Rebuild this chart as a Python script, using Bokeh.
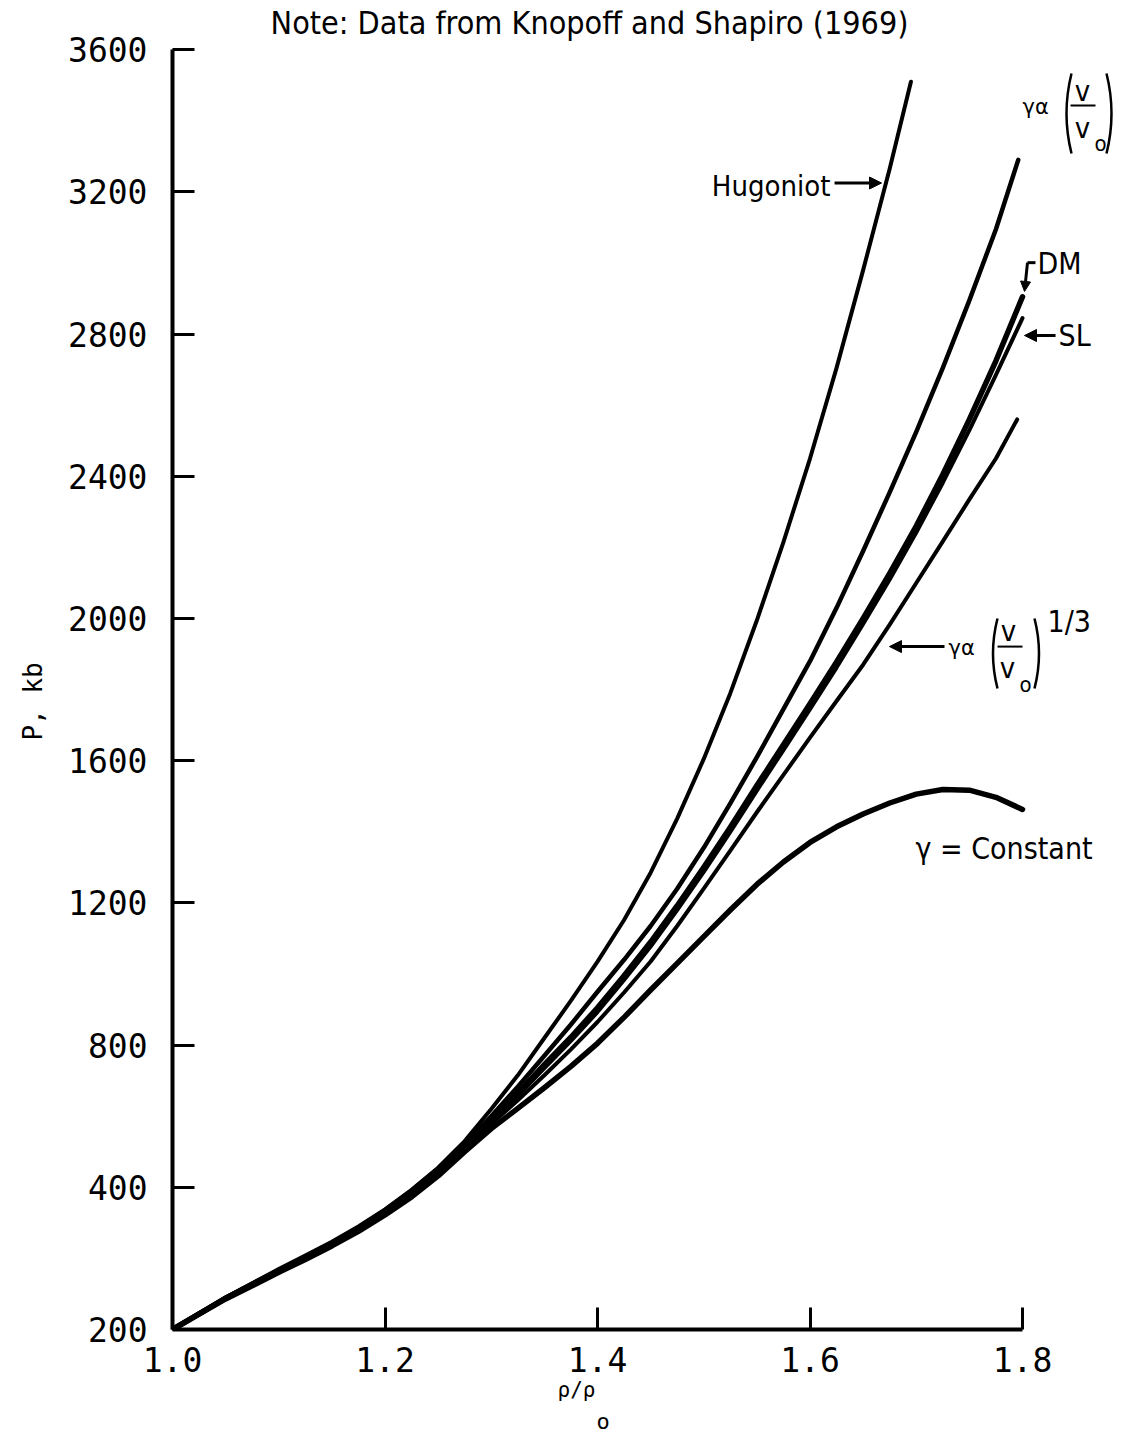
from bokeh.plotting import figure
from bokeh.models import FixedTicker, Label, Arrow, NormalHead, Range1d, Title
from bokeh.embed import file_html
from bokeh.resources import INLINE

# ---------------- data ----------------
rho = [1.000, 1.025, 1.050, 1.075, 1.100, 1.125, 1.150, 1.175, 1.200, 1.225, 1.250, 1.275,
       1.300, 1.325, 1.350, 1.375, 1.400, 1.425, 1.450, 1.475, 1.500, 1.525, 1.550, 1.575,
       1.600, 1.625, 1.650, 1.675, 1.700, 1.725, 1.750, 1.775, 1.800]

# Hugoniot (ends at rho/rho0 = 1.695)
rho_hug = rho[:27] + [1.675, 1.695]
p_hug = [0, 45, 90, 130, 170, 208, 247, 290, 338, 393, 455, 530,
         620, 715, 820, 925, 1035, 1152, 1285, 1437, 1605, 1790, 1995, 2215,
         2450, 2705, 2980, 3265, 3510]

# gamma ~ (V/V0)
rho_v = rho[:32] + [1.796]
p_v = [0, 45, 89, 128, 167, 205, 244, 287, 335, 390, 452, 522,
       600, 683, 770, 858, 950, 1040, 1135, 1240, 1355, 1480, 1610, 1745,
       1880, 2030, 2190, 2355, 2525, 2705, 2895, 3095, 3290]

# DM
rho_dm = rho
p_dm = [0, 44, 88, 127, 165, 203, 241, 284, 331, 386, 447, 516,
        590, 665, 745, 822, 905, 995, 1090, 1192, 1300, 1413, 1530, 1645,
        1760, 1878, 2000, 2127, 2260, 2405, 2560, 2725, 2905]

# SL
rho_sl = rho
p_sl = [0, 44, 88, 126, 164, 202, 240, 282, 329, 383, 444, 512,
        585, 657, 735, 812, 893, 983, 1077, 1180, 1287, 1400, 1516, 1630,
        1745, 1862, 1985, 2110, 2242, 2382, 2530, 2685, 2845]

# gamma ~ (V/V0)^(1/3)
rho_v13 = rho[:32] + [1.795]
p_v13 = [0, 44, 87, 125, 163, 200, 238, 280, 327, 380, 440, 507,
         578, 645, 715, 788, 865, 948, 1035, 1135, 1240, 1347, 1455, 1560,
         1665, 1768, 1870, 1983, 2100, 2217, 2335, 2450, 2560]

# gamma = constant
rho_const = rho
p_const = [0, 43, 86, 123, 161, 197, 235, 276, 322, 373, 432, 500,
           565, 622, 680, 740, 805, 878, 955, 1030, 1105, 1180, 1252, 1315,
           1370, 1414, 1450, 1481, 1506, 1519, 1517, 1497, 1463]

x_ticks = [1.0, 1.2, 1.4, 1.6, 1.8]
x_tick_labels = ["1.0", "1.2", "1.4", "1.6", "1.8"]
y_ticks = [0, 400, 800, 1200, 1600, 2000, 2400, 2800, 3200, 3600]
y_tick_labels = ["200", "400", "800", "1200", "1600", "2000", "2400", "2800", "3200", "3600"]

# ---------------- figure ----------------
NARROW = "Liberation Sans Narrow, DejaVu Sans Condensed, sans-serif"
MONO = "DejaVu Sans Mono"

p = figure(width=1124, height=1440, output_backend="svg", toolbar_location=None,
           x_range=Range1d(1.0, 1.896), y_range=Range1d(0, 3710.3),
           min_border_left=172, min_border_right=0, min_border_top=10, min_border_bottom=111)
p.outline_line_color = None
p.grid.visible = False
p.background_fill_color = "white"
p.border_fill_color = "white"

for ax in (p.xaxis[0], p.yaxis[0]):
    ax.axis_line_width = 4
    ax.axis_line_color = "black"
    ax.major_tick_in = 22
    ax.major_tick_out = 0
    ax.major_tick_line_width = 3
    ax.major_tick_line_color = "black"
    ax.minor_tick_line_color = None
    ax.major_label_text_font = MONO
    ax.major_label_text_font_size = "33px"
    ax.major_label_text_color = "black"

p.xaxis.bounds = (1.0, 1.8)
p.yaxis.bounds = (0, 3600)
p.xaxis.ticker = FixedTicker(ticks=x_ticks)
p.yaxis.ticker = FixedTicker(ticks=y_ticks)
p.xaxis.major_label_overrides = {t: s for t, s in zip(x_ticks, x_tick_labels)}
p.yaxis.major_label_overrides = {t: s for t, s in zip(y_ticks, y_tick_labels)}
p.xaxis.major_label_standoff = 17
p.yaxis.major_label_standoff = 25

# axis titles (placed in the side panels)
p.add_layout(Title(text="P, kb", align="left", offset=589, vertical_align="top",
                   text_font=MONO, text_font_size="26px", text_font_style="normal",
                   text_color="black", standoff=32), "left")
p.add_layout(Title(text="ρ/ρ", align="left", offset=385, vertical_align="top",
                   text_font=MONO, text_font_size="21px", text_font_style="normal",
                   text_color="black", standoff=6), "below")
p.add_layout(Title(text="o", align="left", offset=424, text_font=MONO,
                   text_font_size="22px", text_font_style="normal",
                   text_color="black", standoff=0), "below")

# ---------------- curves ----------------
p.line(rho_hug, p_hug, line_color="black", line_width=4, line_cap="round", line_join="round")
p.line(rho_v, p_v, line_color="black", line_width=4.5, line_cap="round", line_join="round")
p.line(rho_dm, p_dm, line_color="black", line_width=5.5, line_cap="round", line_join="round")
p.line(rho_sl, p_sl, line_color="black", line_width=4, line_cap="round", line_join="round")
p.line(rho_v13, p_v13, line_color="black", line_width=4, line_cap="round", line_join="round")
p.line(rho_const, p_const, line_color="black", line_width=5.5, line_cap="round", line_join="round")

# ---------------- texts ----------------
def lab(x, y, text, size, font=NARROW, align="left", baseline="middle", angle=0):
    p.add_layout(Label(x=x, y=y, text=text, text_font=font, text_font_size=size,
                       text_align=align, text_baseline=baseline, angle=angle,
                       text_color="black"))

def arrow(x0, y0, x1, y1, head=True, width=3, size=12):
    p.add_layout(Arrow(x_start=x0, y_start=y0, x_end=x1, y_end=y1, line_width=width,
                       line_color="black",
                       end=NormalHead(size=size, fill_color="black", line_color="black") if head else None))

lab(1.3925, 3676, "Note: Data from Knopoff and Shapiro (1969)", "32px", align="center")

# Hugoniot
lab(1.6193, 3218, "Hugoniot", "29px", align="right")
arrow(1.6231, 3225, 1.6673, 3225)

# gamma ~ (V/V0)
lab(1.8000, 3440, "γα", "21px", font="DejaVu Sans")
lab(1.8565, 3485, "v", "29px", align="center")
lab(1.8565, 3381, "v", "29px", align="center")
lab(1.8735, 3336, "o", "22px", align="center")
arrow(1.8452, 3443, 1.8687, 3443, head=False, width=2)
p.quadratic(x0=[1.84612], y0=[3533.0], x1=[1.84612], y1=[3308.0], cx=[1.83671], cy=[3420.5],
            line_color="black", line_width=2.5)
p.quadratic(x0=[1.87906], y0=[3533.0], x1=[1.87906], y1=[3308.0], cx=[1.88847], cy=[3420.5],
            line_color="black", line_width=2.5)

# DM
lab(1.8141, 2999, "DM", "30px")
arrow(1.8122, 3001, 1.8047, 3001, head=False)
arrow(1.8047, 3001, 1.8019, 2920, size=10)

# SL
lab(1.8339, 2796, "SL", "30px")
arrow(1.8311, 2796, 1.8019, 2796)

# gamma ~ (V/V0)^1/3
arrow(1.7266, 1921, 1.6748, 1921)
lab(1.7304, 1916, "γα", "21px", font="DejaVu Sans")
lab(1.7868, 1966, "v", "29px", align="center")
lab(1.7859, 1862, "v", "29px", align="center")
lab(1.8029, 1814, "o", "22px", align="center")
arrow(1.7765, 1921, 1.8000, 1921, head=False, width=2)
p.quadratic(x0=[1.77647], y0=[2000.0], x1=[1.77647], y1=[1803.1], cx=[1.76800], cy=[1901.5],
            line_color="black", line_width=2.5)
p.quadratic(x0=[1.81129], y0=[2000.0], x1=[1.81129], y1=[1803.1], cx=[1.81976], cy=[1901.5],
            line_color="black", line_width=2.5)
lab(1.8235, 1992, "1/3", "30px")

# gamma = constant
lab(1.6993, 1353, "γ = Constant", "30px")

open("out.html", "w").write(file_html(p, INLINE))
